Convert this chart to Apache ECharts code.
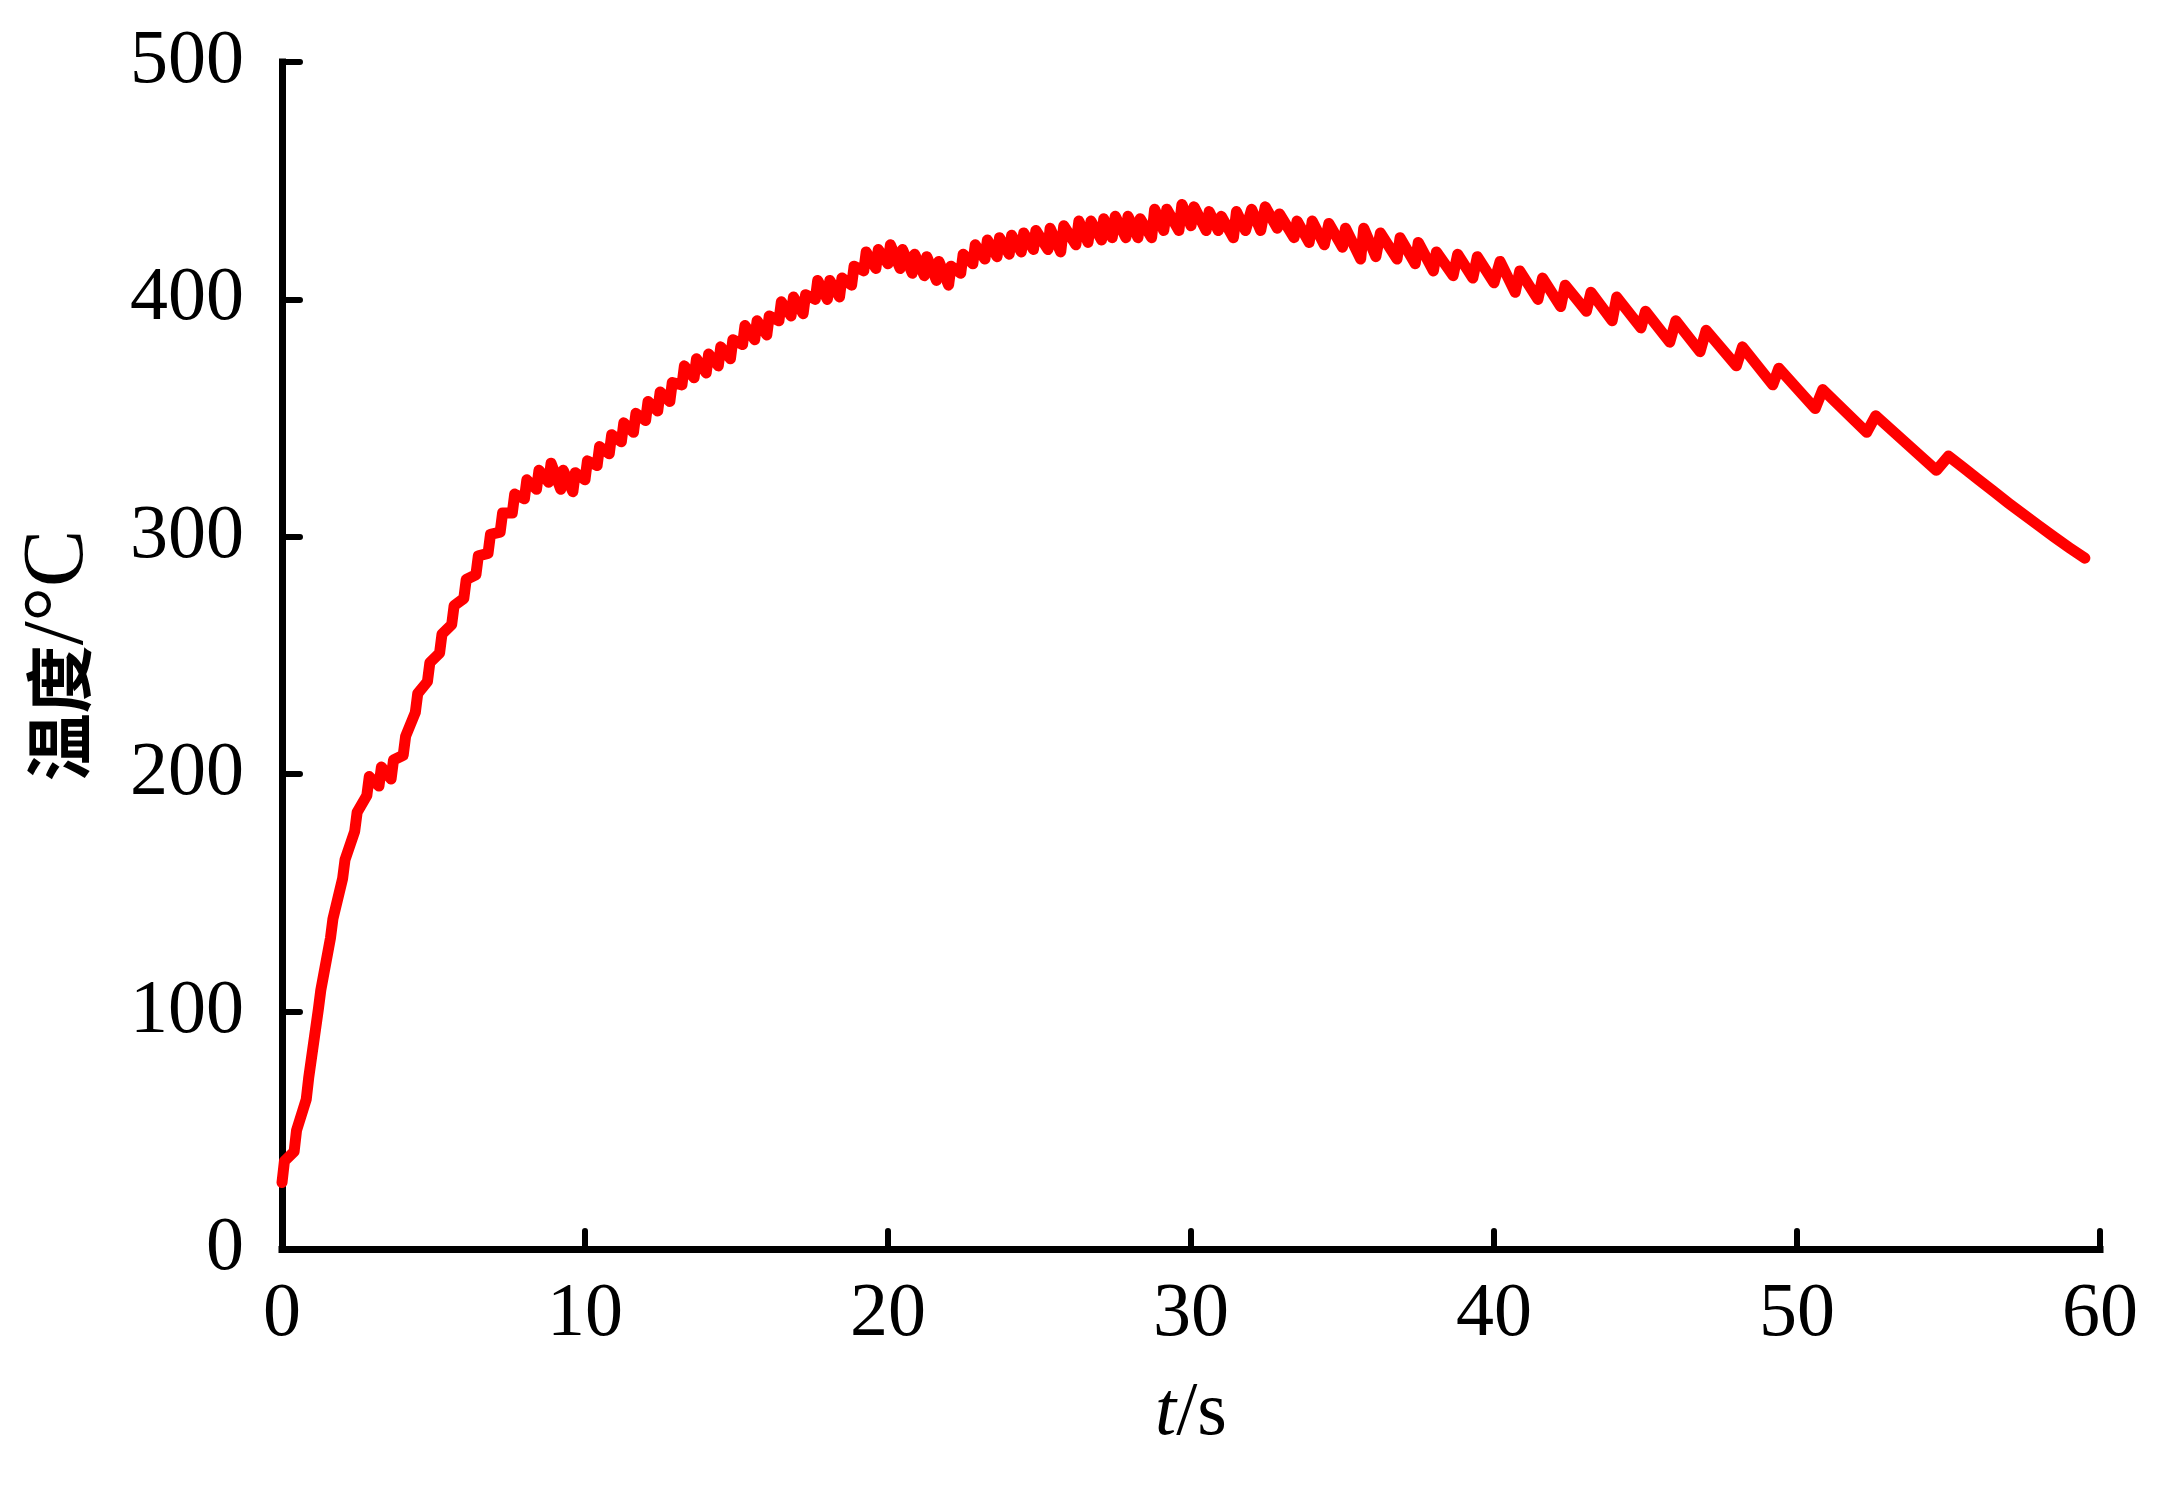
<!DOCTYPE html>
<html><head><meta charset="utf-8">
<script src="https://cdn.jsdelivr.net/npm/echarts@6/dist/echarts.min.js"></script>
<style>html,body{margin:0;padding:0;background:#fff}#c{width:2177px;height:1490px}</style>
</head><body><div id="c"></div>
<script>
// time (s) and temperature (°C)
const timeS = [
  0, 0.08, 0.4, 0.48, 0.8, 0.88, 1.2, 1.28, 1.6, 1.68, 2.0, 2.08, 2.4, 2.48, 2.8, 2.88,
  3.2, 3.28, 3.6, 3.68, 4.0, 4.08, 4.4, 4.48, 4.8, 4.88, 5.2, 5.28, 5.6, 5.68, 6.0, 6.08,
  6.4, 6.48, 6.8, 6.88, 7.2, 7.28, 7.6, 7.68, 8.0, 8.08, 8.4, 8.48, 8.8, 8.88, 9.2, 9.28,
  9.6, 9.68, 10.0, 10.08, 10.4, 10.48, 10.8, 10.88, 11.2, 11.28, 11.6, 11.68, 12.0, 12.08,
  12.4, 12.48, 12.8, 12.88, 13.2, 13.28, 13.6, 13.68, 14.0, 14.08, 14.4, 14.48, 14.8, 14.88,
  15.2, 15.28, 15.6, 15.68, 16.0, 16.08, 16.4, 16.48, 16.8, 16.88, 17.2, 17.28, 17.6, 17.68,
  18.0, 18.08, 18.4, 18.48, 18.8, 18.88, 19.2, 19.28, 19.6, 19.68, 20.0, 20.08, 20.4, 20.48,
  20.8, 20.88, 21.2, 21.28, 21.6, 21.68, 22.0, 22.08, 22.4, 22.48, 22.8, 22.88, 23.2, 23.28,
  23.6, 23.68, 24.0, 24.08, 24.4, 24.48, 24.8, 24.88,
  25.28, 25.35, 25.7, 25.8, 26.2, 26.3, 26.6, 26.7, 27.05, 27.12, 27.4, 27.5, 27.85, 27.92,
  28.25, 28.32, 28.7, 28.8, 29.1, 29.2, 29.6, 29.7, 30.0, 30.1, 30.5, 30.6, 30.9, 31.0,
  31.4, 31.5, 31.8, 32.0, 32.3, 32.45, 32.85, 32.92, 33.4, 33.5, 33.9, 34.0, 34.4, 34.55,
  35.0, 35.1, 35.6, 35.7, 36.1, 36.25, 36.8, 36.9, 37.4, 37.5, 38.0, 38.1, 38.65, 38.8,
  39.3, 39.45, 40.0, 40.2, 40.7, 40.85, 41.45, 41.6, 42.2, 42.35, 43.05, 43.2, 43.9, 44.05,
  44.85, 45.0, 45.8, 46.0, 46.8, 47.0, 48.0, 48.2, 49.2, 49.4, 50.6, 50.85, 52.3, 52.6,
  54.6, 55.0, 55.5, 56.0, 56.5, 57.0, 57.5, 58.0, 58.5, 59.0, 59.5
];
const tempC = [
  28, 37, 41, 50, 63, 72, 101, 109, 131, 139, 156, 164, 176, 184, 191, 199,
  195, 203, 198, 206, 208, 216, 226, 234, 239, 247, 251, 259, 263, 271, 274, 282,
  284, 292, 293, 301, 302, 310, 310, 318, 316, 324, 320, 328, 323, 331, 320, 328,
  319, 327, 324, 332, 330, 338, 335, 343, 340, 348, 344, 352, 349, 357,
  353, 361, 357, 365, 364, 372, 367, 375, 369, 377, 372, 380, 375, 383,
  381, 389, 383, 391, 385, 393, 391, 399, 393, 401, 394, 402, 400, 408,
  400, 408, 401, 409, 406, 414, 412, 420, 413, 421, 415, 423, 413, 421,
  411, 419, 410, 418, 408, 416, 406, 414, 411, 419, 415, 423, 417, 425,
  418, 426, 419, 427, 420, 428, 421, 429,
  421, 430, 420, 431, 423, 433, 424, 433, 425, 434, 426, 435, 426, 435,
  426, 434, 426, 438, 429, 438, 429, 440, 431, 439, 429, 437, 429, 435,
  426, 437, 429, 438, 429, 439, 430, 436, 426, 433, 424, 433, 423, 432,
  422, 430, 417, 430, 418, 428, 417, 426, 415, 424, 412, 420, 410, 419,
  409, 418, 407, 416, 403, 412, 400, 409, 397, 406, 395, 403, 391, 401,
  388, 395, 382, 391, 378, 387, 372, 380, 364, 371, 354, 362, 344, 351,
  328, 334, 329, 324, 319, 314, 309.2, 304.5, 299.8, 295.3, 291
];
const xTickLabels = ['0', '10', '20', '30', '40', '50', '60'];
const yTickLabels = ['0', '100', '200', '300', '400', '500'];

const chart = echarts.init(document.getElementById('c'), null, {renderer: 'canvas'});
const serif = '"Liberation Serif", "Times New Roman", serif';
const axisCommon = {
  axisLine: {lineStyle: {color: '#000', width: 7, cap: 'square'}},
  axisTick: {inside: true, length: 18, lineStyle: {color: '#000', width: 6, cap: 'round'}},
  splitLine: {show: false}
};
chart.setOption({
  animation: false,
  backgroundColor: '#fff',
  grid: {left: 282, right: 77, top: 62, bottom: 241},
  xAxis: Object.assign({
    type: 'value', min: 0, max: 60, interval: 10,
    axisLabel: {fontFamily: serif, fontSize: 76, color: '#000', margin: 28,
      formatter: (v) => xTickLabels[Math.round(v / 10)]},
    name: '{it|t}{rm|/s}', nameLocation: 'middle', nameGap: 127,
    nameTextStyle: {rich: {
      it: {fontFamily: serif, fontSize: 76, fontStyle: 'italic', color: '#000'},
      rm: {fontFamily: serif, fontSize: 76, color: '#000'}
    }}
  }, axisCommon),
  yAxis: Object.assign({
    type: 'value', min: 0, max: 500, interval: 100,
    axisLabel: {fontFamily: serif, fontSize: 76, color: '#000', margin: 38,
      formatter: (v) => yTickLabels[Math.round(v / 100)]},
    name: '{cjk|温度}{rm|/°C}', nameLocation: 'middle', nameGap: 180,
    nameTextStyle: {rich: {
      cjk: {fontFamily: '"Noto Sans CJK SC"', fontSize: 68, fontWeight: 'bold', color: '#000'},
      rm: {fontFamily: serif, fontSize: 86, color: '#000'}
    }}
  }, axisCommon),
  series: [{
    type: 'line',
    data: timeS.map((t, i) => [t, tempC[i]]),
    showSymbol: false, symbol: 'none',
    lineStyle: {color: '#ff0000', width: 11, cap: 'round', join: 'round'}
  }]
});
</script>
</body></html>
